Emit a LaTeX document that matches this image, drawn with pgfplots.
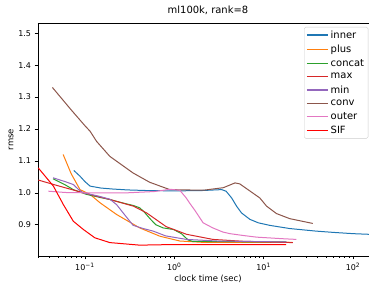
\documentclass[border=0pt]{standalone}
\usepackage{pgfplots}
\pgfplotsset{compat=1.18}
\usepackage{fontspec}
\setmainfont{DejaVu Sans}
\definecolor{cinner}{HTML}{1F77B4}
\definecolor{cplus}{HTML}{FF7F0E}
\definecolor{cconcat}{HTML}{2CA02C}
\definecolor{cmax}{HTML}{D62728}
\definecolor{cmin}{HTML}{9467BD}
\definecolor{cconv}{HTML}{8C564B}
\definecolor{couter}{HTML}{E377C2}
\definecolor{csif}{HTML}{FF0000}
\begin{document}
\begin{tikzpicture}
\useasboundingbox (0,0) rectangle (369bp,287bp);
\begin{axis}[
  at={(38bp,31bp)}, anchor=south west,
  scale only axis, width=340bp, height=233bp,
  font=\fontsize{10}{12}\selectfont,
  xmode=log, xmin=0.0298, xmax=190.6, ymin=0.802, ymax=1.532,
  separate axis lines, axis x line*=box, axis y line*=left,
  axis line style={-, line width=0.6bp},
  /pgf/number format/assume math mode=true,
  xtick={0.1,1,10,100},
  xticklabels={10\textsuperscript{−1},10\textsuperscript{0},10\textsuperscript{1},10\textsuperscript{2}},
  minor xtick={0.03,0.04,0.05,0.06,0.07,0.08,0.09,0.2,0.3,0.4,0.5,0.6,0.7,0.8,0.9,2,3,4,5,6,7,8,9,20,30,40,50,60,70,80,90},
  ytick={0.9,1.0,1.1,1.2,1.3,1.4,1.5},
  yticklabel style={/pgf/number format/fixed, /pgf/number format/fixed zerofill, /pgf/number format/precision=1},
  tick label style={font=\fontsize{8}{10}\selectfont},
  tick align=outside, xtick pos=bottom, ytick pos=left,
  major tick length=3.5bp, minor tick length=2bp,
  tick style={line width=0.6bp, black},
  title={ml100k, rank=8},
  title style={yshift=-1bp},
  xlabel={clock time (sec)}, ylabel={rmse},
  label style={font=\fontsize{8.5}{10}\selectfont},
  xlabel style={yshift=2bp}, ylabel style={yshift=-2bp},
  legend cell align=left,
  legend style={at={(rel axis cs:0.7824,0.983)}, anchor=north west,
    draw=black!20, rounded corners=1.5bp,
    row sep=1.3bp, inner xsep=2bp, inner ysep=1.5bp},
  legend image code/.code={\draw[#1, line width=1.5bp] (0bp,0bp) -- (21bp,0bp);},
  every axis plot/.append style={line width=1bp},
]
\addplot[draw=cinner] coordinates {(0.075,1.07)(0.088,1.052)(0.10,1.035)(0.114,1.021)(0.15,1.015)(0.2,1.012)(0.3,1.009)(0.5,1.007)(1,1.006)(2,1.007)(3.39,1.010)(3.8,1.005)(4.38,0.984)(4.98,0.958)(5.65,0.937)(7.0,0.917)(8.7,0.906)(11.7,0.898)(19.6,0.888)(38.6,0.88)(60,0.876)(100,0.872)(150,0.870)(190,0.869)};
\addlegendentry{inner}
\addplot[draw=cplus] coordinates {(0.057,1.12)(0.07,1.06)(0.088,1.01)(0.114,0.995)(0.147,0.969)(0.226,0.932)(0.41,0.89)(0.69,0.864)(1.15,0.849)(2,0.845)(21,0.845)};
\addlegendentry{plus}
\addplot[draw=cconcat] coordinates {(0.044,1.044)(0.06,1.025)(0.074,1.01)(0.104,0.995)(0.15,0.985)(0.19,0.979)(0.25,0.97)(0.35,0.96)(0.41,0.953)(0.46,0.94)(0.53,0.92)(0.62,0.90)(0.75,0.89)(0.98,0.885)(1.2,0.872)(1.43,0.852)(1.6,0.848)(3,0.847)(18,0.846)};
\addlegendentry{concat}
\addplot[draw=cmax] coordinates {(0.03,1.04)(0.05,1.022)(0.096,1.0)(0.19,0.979)(0.35,0.958)(0.49,0.937)(0.81,0.894)(1.37,0.87)(2.7,0.854)(6,0.848)(21.3,0.844)};
\addlegendentry{max}
\addplot[draw=cmin] coordinates {(0.044,1.047)(0.06,1.035)(0.074,1.026)(0.085,1.01)(0.096,1.0)(0.14,0.99)(0.19,0.98)(0.226,0.963)(0.28,0.93)(0.346,0.898)(0.45,0.888)(0.58,0.88)(0.8,0.865)(1.37,0.854)(3,0.849)(18,0.846)};
\addlegendentry{min}
\addplot[draw=cconv] coordinates {(0.0432,1.33)(0.07,1.26)(0.1,1.21)(0.114,1.193)(0.135,1.161)(0.19,1.114)(0.346,1.062)(0.53,1.033)(0.89,1.01)(2.1,1.008)(3.54,1.016)(4.78,1.031)(5.4,1.028)(9.05,0.984)(10.8,0.958)(13.9,0.935)(19.6,0.919)(35.5,0.904)};
\addlegendentry{conv}
\addplot[draw=couter] coordinates {(0.039,1.005)(0.06,1.001)(0.1,1.0)(0.3,1.0)(0.6,1.004)(0.9,1.011)(1.15,1.008)(1.35,0.985)(1.5,0.966)(1.7,0.945)(2.1,0.906)(2.7,0.89)(3.5,0.877)(4.2,0.872)(6,0.866)(8.4,0.861)(16.7,0.856)(23.3,0.854)};
\addlegendentry{outer}
\addplot[draw=csif] coordinates {(0.03,1.078)(0.0443,1.021)(0.0573,0.963)(0.074,0.911)(0.096,0.885)(0.129,0.859)(0.19,0.844)(0.41,0.836)(1,0.838)(17.9,0.838)};
\addlegendentry{SIF}
\end{axis}
\end{tikzpicture}
\end{document}
